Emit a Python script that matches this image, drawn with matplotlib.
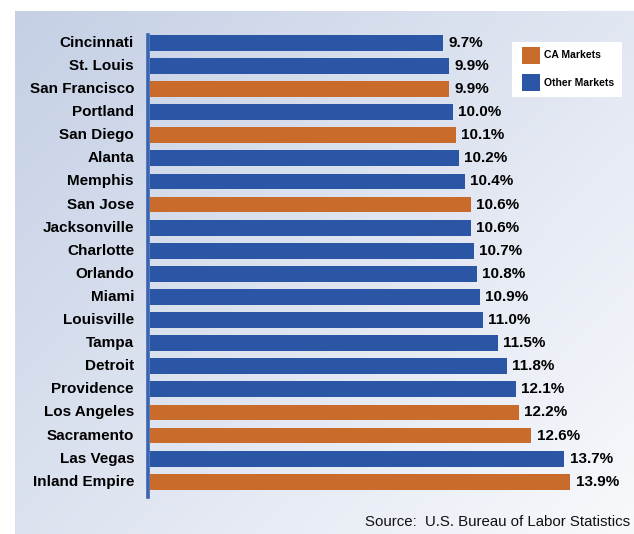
import numpy as np
import matplotlib
matplotlib.use("Agg")
import matplotlib.pyplot as plt
import matplotlib.transforms as mtransforms
from matplotlib.patches import Rectangle

plt.rcParams["font.family"] = ["Liberation Sans", "DejaVu Sans"]

# ── DATA ────────────────────────────────────────────────────────────
markets = [
    "Cincinnati", "St. Louis", "San Francisco", "Portland", "San Diego",
    "Alanta", "Memphis", "San Jose", "Jacksonville", "Charlotte",
    "Orlando", "Miami", "Louisville", "Tampa", "Detroit",
    "Providence", "Los Angeles", "Sacramento", "Las Vegas", "Inland Empire",
]
rates = [
    9.7, 9.9, 9.9, 10.0, 10.1,
    10.2, 10.4, 10.6, 10.6, 10.7,
    10.8, 10.9, 11.0, 11.5, 11.8,
    12.1, 12.2, 12.6, 13.7, 13.9,
]
is_ca = [
    False, False, True, False, True,
    False, False, True, False, False,
    False, False, False, False, False,
    False, True, True, False, True,
]
legend_labels = ["CA Markets", "Other Markets"]
source_text = "Source:  U.S. Bureau of Labor Statistics"

ORANGE = "#c96b2a"
BLUE = "#2a56a5"

W, H = 634, 534
fig = plt.figure(figsize=(W / 100, H / 100), dpi=100)
fig.patch.set_facecolor("white")

# ── BACKGROUND GRADIENT PANEL ───────────────────────────────────────
bg = fig.add_axes([15 / W, 0, 1 - 15 / W, 1 - 11 / H])
bg.set_axis_off()
nx, ny = 200, 200
gx = np.linspace(0, 1, nx)[None, :]
gy = np.linspace(0, 1, ny)[:, None]
t = np.clip(0.55 * gx + 0.45 * gy, 0, 1)
c0 = np.array([197, 208, 229]) / 255
c1 = np.array([248, 249, 252]) / 255
img = c0[None, None, :] + (c1 - c0)[None, None, :] * t[:, :, None]
bg.imshow(img, aspect="auto", extent=(0, 1, 1, 0), interpolation="bicubic")
bg.set_xlim(0, 1)
bg.set_ylim(1, 0)

# ── BARS ────────────────────────────────────────────────────────────
ax = fig.add_axes([150 / W, 1 - 497 / H, (W - 150) / W, (497 - 35) / H])
ax.patch.set_alpha(0)
y = np.arange(len(markets))
colors = [ORANGE if c else BLUE for c in is_ca]
ax.barh(y, rates, height=0.68, color=colors, zorder=2)
ax.set_xlim(0, 16)
ax.set_ylim(len(markets) - 0.34, -0.34)

for yi, v in zip(y, rates):
    ax.text(v + 0.18, yi, f"{v:.1f}%", va="center", ha="left",
            fontsize=11, fontweight="bold", color="black")

# category labels, drawn as text so the bold weight sticks
lab_tr = mtransforms.blended_transform_factory(fig.transFigure, ax.transData)
for yi, name in zip(y, markets):
    ax.text(134 / W, yi, name, transform=lab_tr, ha="right", va="center",
            fontsize=11, fontweight="bold", color="black")

ax.set_yticks([])
ax.set_xticks([])
for side in ["top", "right", "bottom"]:
    ax.spines[side].set_visible(False)
ax.spines["left"].set_color("#3a63b0")
ax.spines["left"].set_linewidth(2.6)
ax.spines["left"].set_position(("outward", 1.5))

# ── LEGEND ──────────────────────────────────────────────────────────
fig.patches.append(Rectangle((512 / W, 1 - 97 / H), 110 / W, 55 / H,
                             transform=fig.transFigure, facecolor="white",
                             edgecolor="none", zorder=5))
for i, (lab, col) in enumerate(zip(legend_labels, [ORANGE, BLUE])):
    top = 47 + i * 27
    fig.patches.append(Rectangle((522 / W, 1 - (top + 17) / H), 18 / W, 17 / H,
                                 transform=fig.transFigure, facecolor=col,
                                 edgecolor="none", zorder=6))
    fig.text(544 / W, 1 - (top + 8.5) / H, lab, fontsize=7.5,
             fontweight="bold", va="center", ha="left", zorder=7)

fig.text(630 / W, 1 - 522 / H, source_text, fontsize=10.8, ha="right",
         va="center", color="#111111")

fig.savefig("out.png", dpi=100)
